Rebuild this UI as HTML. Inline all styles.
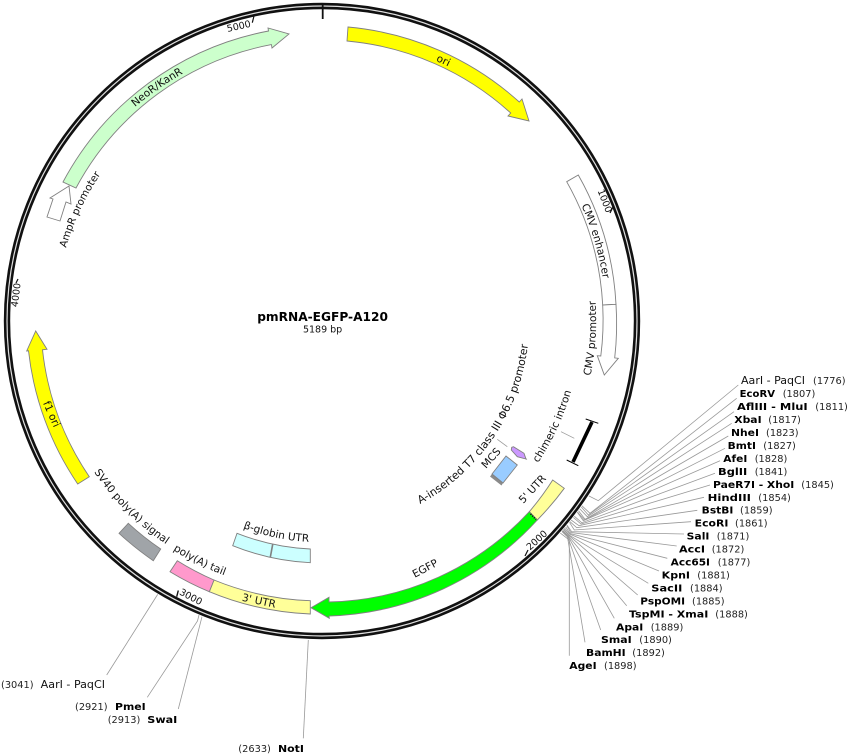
<!DOCTYPE html>
<html><head><meta charset="utf-8"><style>
html,body{margin:0;padding:0;background:#fff}
svg{display:block}
text{font-family:"DejaVu Sans","Liberation Sans",sans-serif;font-size:10.5px;fill:#111}
.b{font-weight:bold;font-size:10px;fill:#000}
.n{font-size:9.8px;fill:#222}
.f{stroke:#808080;stroke-width:.9}
.l{stroke:#999;stroke-width:.8;fill:none}
</style></head><body>
<svg width="848" height="754" viewBox="0 0 848 754" xmlns="http://www.w3.org/2000/svg">
<defs>
<path id="pNeo" d="M135 107A284 284 0 0 1 200 65"/>
<path id="pOri" d="M371.3 41.3A284 284 0 0 1 504.6 103.4"/>
<path id="pEnh" d="M581.4 205.5A284 284 0 0 1 605.3 301"/>
<path id="pPro" d="M590.5 376A274 274 0 0 0 592 273"/>
<path id="pChi" d="M538 463A259 259 0 0 0 578 360"/>
<path id="pT7" d="M420 504A207 207 0 0 0 529 330"/>
<path id="pTail" d="M173 550A272 272 0 0 0 245 582"/>
<path id="pSV" d="M94 472A272 272 0 0 0 185 556"/>
<path id="pBeta" d="M243 528A221 221 0 0 0 330 542"/>
<path id="pAmp" d="M66 248A266 266 0 0 1 125 143"/>
</defs>

<!-- leader lines -->
<g class="l">
<polyline points="589,496 598.3,500.7 738.3,385"/>
<polyline points="582,505.8 590,513.3 736.7,398.3"/>
<polyline points="581.3,507 588.3,515 734,411.7"/>
<polyline points="579.8,508.9 587.3,516.7 731.7,423.3"/>
<polyline points="578.5,510.8 585,519.3 728.3,436"/>
<polyline points="577.5,512 584.3,520 725,448.3"/>
<polyline points="577.3,512.3 583.3,520.7 720,460.7"/>
<polyline points="574.3,516.2 581.7,522.7 715,473.3"/>
<polyline points="573.4,517.4 581,524 710,485"/>
<polyline points="571.1,520 579,525.7 704,497.3"/>
<polyline points="569.9,521.6 576.7,527.7 697.3,510.3"/>
<polyline points="569.5,522.3 574.3,530 691,521.7"/>
<polyline points="567,525.2 571.7,531.7 684,534"/>
<polyline points="566.7,525.5 570.7,532.5 676.7,546"/>
<polyline points="565.7,527 570,533.5 667.3,558.3"/>
<polyline points="564.5,528 569.5,534 659,571"/>
<polyline points="563.8,529 569,535 648.3,583.3"/>
<polyline points="563.5,529.3 568.7,535.3 637.7,595"/>
<polyline points="562.8,530.3 568.3,536 626.7,605.7"/>
<polyline points="562.5,530.6 568,536.3 614.3,618.3"/>
<polyline points="562.2,530.9 567.7,536.7 600.7,630"/>
<polyline points="561.9,531.5 567.5,537 585,642.3"/>
<polyline points="560.3,533.1 569.3,540 569.3,655.7"/>
<line x1="157.7" y1="594.4" x2="106.7" y2="675"/>
<polyline points="199,615 197.5,621 147.3,697.3"/>
<line x1="202" y1="616.7" x2="178.3" y2="709"/>
<line x1="308.3" y1="640" x2="303.3" y2="738.3"/>
<line x1="561" y1="431.7" x2="574.3" y2="438.3"/>
<line x1="497.3" y1="439.3" x2="507.3" y2="446.7"/>
<line x1="524" y1="457.5" x2="527" y2="459.5"/>
</g>

<!-- backbone -->
<circle cx="322" cy="321" r="315" fill="none" stroke="#111" stroke-width="6.4"/>
<circle cx="322" cy="321" r="315" fill="none" stroke="#e0e0e0" stroke-width="1.2"/>

<!-- ticks -->
<g stroke="#111" fill="none">
<line x1="322.7" y1="5" x2="322.7" y2="19" stroke-width="1.8"/>
<line x1="252.3" y1="22.7" x2="254" y2="16" stroke-width="1.2"/>
<line x1="610" y1="213" x2="613.5" y2="206" stroke-width="1.2"/>
<line x1="16" y1="283" x2="18" y2="279" stroke-width="1.2"/>
<line x1="525" y1="556" x2="528" y2="550" stroke-width="1.2"/>
<line x1="176.7" y1="596.7" x2="178.3" y2="590.5" stroke-width="1.4"/>
</g>

<!-- features -->
<path class="f" fill="#ffff00" d="M348 27A295 295 0 0 1 519.3 102L522 99L529 121L508 116L510.7 113A281 281 0 0 0 347 41Z"/>
<path class="f" fill="#ccffcc" d="M63 182A295 295 0 0 1 268.5 31L268 28L289 34L272 48L271.4 44.6A281 281 0 0 0 76 188Z"/>
<path class="f" fill="#fff" d="M69 186L50 198L53 199L47 217L60 221L66 202L71 204Z"/>
<path class="f" fill="#ffff00" d="M77.7 484A295 295 0 0 1 28.5 350.8L26.7 351L35.7 331L47 349.3L42.5 349.8A281 281 0 0 0 89.3 476.7Z"/>
<path class="f" fill="#fff" d="M578.3 175A295 295 0 0 1 616 304.3L602.7 305A281 281 0 0 0 566.7 181.7Z"/>
<path class="f" fill="#fff" d="M616 304.3A295 295 0 0 1 614.7 357.9L618.3 358.3L604.3 375L597.3 355.7L600.8 356A281 281 0 0 0 602.7 305Z"/>
<path class="f" fill="#ffff99" d="M564.3 488.3A295 295 0 0 1 537.3 520L529.3 511.7A281 281 0 0 0 552.7 480Z"/>
<path class="f" fill="#00ff00" d="M537.3 520A295 295 0 0 1 329 616L329.3 618.3L311 607.7L329 597.3L329 602A281 281 0 0 0 529.3 511.7Z"/>
<line x1="530.5" y1="514" x2="536" y2="519.5" stroke="#111" stroke-width="1.6" stroke-dasharray="1.2 1.2"/>
<path class="f" fill="#ffff99" d="M310.3 614A293 293 0 0 1 209.3 591.7L214 580A281 281 0 0 0 310.3 600.7Z"/>
<path class="f" fill="#ff99cc" d="M209.3 591.7A293 293 0 0 1 170 571.7L177.3 560.7A280 280 0 0 0 214 580Z"/>
<path class="f" fill="#a0a4a8" d="M153.3 560.7A294 294 0 0 1 119 533.3L128.3 523.3A280 280 0 0 0 160.7 549Z"/>
<path class="f" fill="#ccffff" d="M310.3 562.7A242 242 0 0 1 232.7 545.7L237 533.3A228 228 0 0 0 310.3 549Z"/>
<line x1="272.7" y1="544.3" x2="270.3" y2="557.3" stroke="#808080" stroke-width="1.6"/>
<path fill="#8a8a8a" d="M492 474L503 483L501.5 485.5L490 476.5Z"/>
<path class="f" fill="#99ccff" d="M506 456L517.3 465L503 483L492 474Z"/>
<path class="f" fill="#cc99ff" d="M511.7 447.3L513.5 446.7L524 453.3L526 459L517.3 456.7L511.3 450Z"/>

<!-- chimeric intron -->
<g stroke="#000" fill="none">
<line x1="592" y1="422" x2="573" y2="462" stroke-width="3.6"/>
<line x1="585.7" y1="419" x2="598.3" y2="423.3" stroke-width="1"/>
<line x1="566.7" y1="460" x2="578.3" y2="465.7" stroke-width="1"/>
</g>

<!-- centre title -->
<text x="322.6" y="321" text-anchor="middle" style="font-weight:bold;font-size:12.2px;fill:#000">pmRNA-EGFP-A120</text>
<text x="322.6" y="332.5" text-anchor="middle" style="font-size:9.5px">5189 bp</text>

<!-- feature labels -->
<text><textPath href="#pNeo">NeoR/KanR</textPath></text>
<text text-anchor="middle"><textPath href="#pOri" startOffset="50%">ori</textPath></text>
<text><textPath href="#pEnh">CMV enhancer</textPath></text>
<text><textPath href="#pPro">CMV promoter</textPath></text>
<text><textPath href="#pChi">chimeric intron</textPath></text>
<text style="font-size:10.9px"><textPath href="#pT7">A-inserted T7 class III Φ6.5 promoter</textPath></text>
<text><textPath href="#pTail">poly(A) tail</textPath></text>
<text><textPath href="#pSV">SV40 poly(A) signal</textPath></text>
<text><textPath href="#pBeta">β-globin UTR</textPath></text>
<text style="font-size:10.3px"><textPath href="#pAmp">AmpR promoter</textPath></text>
<text text-anchor="middle" transform="translate(491 458) rotate(-48)" y="3.6">MCS</text>
<text text-anchor="middle" transform="translate(532.3 489) rotate(-47)" y="3.6">5' UTR</text>
<text text-anchor="middle" transform="translate(425 568.3) rotate(-28)" y="3.6">EGFP</text>
<text text-anchor="middle" transform="translate(259 600.7) rotate(12)" y="3.6">3' UTR</text>
<text text-anchor="middle" transform="translate(51.7 414) rotate(66)" y="3.6">f1 ori</text>

<!-- tick numbers -->
<text style="font-size:9.5px" text-anchor="middle" transform="translate(238.7 26) rotate(-13)" y="3.4">5000</text>
<text style="font-size:9.5px" text-anchor="middle" transform="translate(605 200.8) rotate(69)" y="3.4">1000</text>
<text style="font-size:9.5px" text-anchor="middle" transform="translate(15.7 295) rotate(-83)" y="3.4">4000</text>
<text style="font-size:9.5px" text-anchor="middle" transform="translate(536.7 540) rotate(-42)" y="3.4">2000</text>
<text style="font-size:9.5px" text-anchor="middle" transform="translate(191 596.7) rotate(28)" y="3.4">3000</text>

<!-- right enzyme labels -->
<text x="741" y="384.2" textLength="64" lengthAdjust="spacingAndGlyphs">AarI - PaqCI</text><text class="n" x="813" y="384.2">(1776)</text>
<text class="b" x="739.7" y="397.2" textLength="35.3" lengthAdjust="spacingAndGlyphs">EcoRV</text><text class="n" x="782.7" y="397.2">(1807)</text>
<text class="b" x="737" y="410.1" textLength="70.7" lengthAdjust="spacingAndGlyphs">AflIII - MluI</text><text class="n" x="815.3" y="410.1">(1811)</text>
<text class="b" x="734.3" y="423.1" textLength="27.3" lengthAdjust="spacingAndGlyphs">XbaI</text><text class="n" x="768.3" y="423.1">(1817)</text>
<text class="b" x="731" y="436" textLength="28" lengthAdjust="spacingAndGlyphs">NheI</text><text class="n" x="766" y="436">(1823)</text>
<text class="b" x="727.7" y="449" textLength="28.3" lengthAdjust="spacingAndGlyphs">BmtI</text><text class="n" x="763.3" y="449">(1827)</text>
<text class="b" x="723.3" y="461.9" textLength="24" lengthAdjust="spacingAndGlyphs">AfeI</text><text class="n" x="754.7" y="461.9">(1828)</text>
<text class="b" x="718" y="474.9" textLength="29.3" lengthAdjust="spacingAndGlyphs">BglII</text><text class="n" x="754.7" y="474.9">(1841)</text>
<text class="b" x="713" y="487.8" textLength="81.3" lengthAdjust="spacingAndGlyphs">PaeR7I - XhoI</text><text class="n" x="801.3" y="487.8">(1845)</text>
<text class="b" x="707.7" y="500.8" textLength="43.3" lengthAdjust="spacingAndGlyphs">HindIII</text><text class="n" x="758.3" y="500.8">(1854)</text>
<text class="b" x="701.7" y="513.7" textLength="31.7" lengthAdjust="spacingAndGlyphs">BstBI</text><text class="n" x="740" y="513.7">(1859)</text>
<text class="b" x="694.7" y="526.7" textLength="33.7" lengthAdjust="spacingAndGlyphs">EcoRI</text><text class="n" x="735" y="526.7">(1861)</text>
<text class="b" x="686.7" y="539.6" textLength="22.7" lengthAdjust="spacingAndGlyphs">SalI</text><text class="n" x="716.7" y="539.6">(1871)</text>
<text class="b" x="679" y="552.6" textLength="26" lengthAdjust="spacingAndGlyphs">AccI</text><text class="n" x="711.7" y="552.6">(1872)</text>
<text class="b" x="670.7" y="565.5" textLength="39.3" lengthAdjust="spacingAndGlyphs">Acc65I</text><text class="n" x="717.7" y="565.5">(1877)</text>
<text class="b" x="661.7" y="578.5" textLength="28.3" lengthAdjust="spacingAndGlyphs">KpnI</text><text class="n" x="697.3" y="578.5">(1881)</text>
<text class="b" x="651.3" y="591.4" textLength="31" lengthAdjust="spacingAndGlyphs">SacII</text><text class="n" x="690" y="591.4">(1884)</text>
<text class="b" x="640.3" y="604.4" textLength="44.7" lengthAdjust="spacingAndGlyphs">PspOMI</text><text class="n" x="692" y="604.4">(1885)</text>
<text class="b" x="629" y="617.3" textLength="79.3" lengthAdjust="spacingAndGlyphs">TspMI - XmaI</text><text class="n" x="715.3" y="617.3">(1888)</text>
<text class="b" x="616" y="630.3" textLength="27.3" lengthAdjust="spacingAndGlyphs">ApaI</text><text class="n" x="650.7" y="630.3">(1889)</text>
<text class="b" x="601" y="643.2" textLength="30.7" lengthAdjust="spacingAndGlyphs">SmaI</text><text class="n" x="639.3" y="643.2">(1890)</text>
<text class="b" x="586" y="656.2" textLength="39.7" lengthAdjust="spacingAndGlyphs">BamHI</text><text class="n" x="632.3" y="656.2">(1892)</text>
<text class="b" x="569.3" y="669.1" textLength="27.3" lengthAdjust="spacingAndGlyphs">AgeI</text><text class="n" x="604" y="669.1">(1898)</text>

<!-- left / bottom enzyme labels -->
<text class="n" x="1" y="687.8">(3041)</text><text x="40.7" y="687.8" textLength="64.3" lengthAdjust="spacingAndGlyphs">AarI - PaqCI</text>
<text class="n" x="75" y="709.8">(2921)</text><text class="b" x="115" y="709.8" textLength="30.7" lengthAdjust="spacingAndGlyphs">PmeI</text>
<text class="n" x="107.7" y="722.8">(2913)</text><text class="b" x="147.3" y="722.8" textLength="30" lengthAdjust="spacingAndGlyphs">SwaI</text>
<text class="n" x="238.3" y="752.2">(2633)</text><text class="b" x="278" y="752.2" textLength="26" lengthAdjust="spacingAndGlyphs">NotI</text>
</svg>
</body></html>
